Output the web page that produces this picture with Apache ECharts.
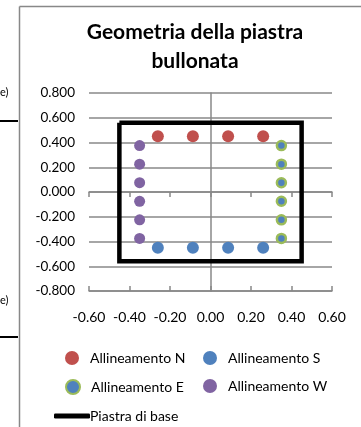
<!DOCTYPE html>
<html>
<head>
<meta charset="utf-8">
<script src="https://cdn.jsdelivr.net/npm/echarts@6/dist/echarts.min.js"></script>
<style>
  html, body { margin: 0; padding: 0; background: #fff; }
  #main { width: 361px; height: 427px; }
</style>
</head>
<body>
<div id="main"></div>
<script>
    // posizioni bulloni (m)
    var boltXs = [-0.26, -0.087, 0.087, 0.26];
    var nordY = [0.45, 0.45, 0.45, 0.45];
    var sudY = [-0.45, -0.45, -0.45, -0.45];
    var boltYs = [0.375, 0.225, 0.075, -0.075, -0.225, -0.375];
    var estX = [0.35, 0.35, 0.35, 0.35, 0.35, 0.35];
    var ovestX = [-0.35, -0.35, -0.35, -0.35, -0.35, -0.35];
    // contorno piastra
    var piastraX = [-0.45, 0.45, 0.45, -0.45, -0.45];
    var piastraY = [0.56, 0.56, -0.56, -0.56, 0.56];

    var xTicks = [-0.6, 0.6, 0.2];
    var yTicks = [-0.8, 0.8, 0.2];

    function pairs(xs, ys) {
        var out = [];
        for (var i = 0; i < xs.length; i++) {
            out.push([xs[i], ys[i]]);
        }
        return out;
    }

    var font = 'Lato, "Open Sans", sans-serif';
    var grigio = '#888888';

    var myChart = echarts.init(document.getElementById('main'));

    var baseX = {
        type: 'value',
        min: xTicks[0],
        max: xTicks[1],
        interval: xTicks[2],
        position: 'bottom',
        splitLine: { show: false },
        axisLabel: { show: false },
        axisTick: { show: false },
        axisLine: { show: false }
    };

    var legendText = { fontFamily: font, fontSize: 14, color: '#000' };

    var option = {
        animation: false,
        textStyle: { fontFamily: font },
        title: {
            text: 'Geometria della piastra\nbullonata',
            left: 190,
            textAlign: 'center',
            top: 13,
            textStyle: {
                fontFamily: font,
                fontSize: 21,
                fontWeight: 'bold',
                color: '#000',
                lineHeight: 29
            }
        },
        graphic: [
            // bordo area grafico
            { type: 'line', shape: { x1: 19.5, y1: 6.5, x2: 361, y2: 6.5 }, style: { stroke: grigio, lineWidth: 1.5 } },
            { type: 'line', shape: { x1: 19.5, y1: 6.5, x2: 19.5, y2: 427 }, style: { stroke: grigio, lineWidth: 1.5 } },
            // resti del grafico dietro
            { type: 'text', left: 0, top: 87, style: { text: 'e)', font: '11px ' + font, fill: '#000' } },
            { type: 'text', left: 0, top: 295, style: { text: 'e)', font: '11px ' + font, fill: '#000' } },
            { type: 'line', shape: { x1: 0, y1: 121, x2: 18, y2: 121 }, style: { stroke: '#000', lineWidth: 2 } },
            { type: 'line', shape: { x1: 0, y1: 337, x2: 18, y2: 337 }, style: { stroke: '#000', lineWidth: 2 } }
        ],
        grid: {
            left: 89,
            right: 29,
            top: 93,
            bottom: 136
        },
        legend: [
            { data: ['Allineamento N'], left: 60, top: 346 },
            { data: ['Allineamento S'], left: 198, top: 346 },
            { data: ['Allineamento E'], left: 60, top: 374 },
            { data: ['Allineamento W'], left: 198, top: 374 },
            {
                data: ['Piastra di base'], left: 49, top: 404,
                itemWidth: 36, itemHeight: 5, icon: 'roundRect',
                textStyle: { padding: [0, 0, 0, -5] }
            }
        ].map(function (l) {
            return Object.assign({
                orient: 'horizontal',
                itemWidth: 14,
                itemHeight: 14,
                icon: 'circle',
                padding: 5
            }, l, {
                textStyle: Object.assign({ padding: [0, 0, 0, 6] }, legendText, l.textStyle || {})
            });
        }),
        xAxis: [
            Object.assign({}, baseX, {
                axisLabel: {
                    show: true,
                    margin: 19,
                    fontFamily: font,
                    fontSize: 14,
                    color: '#000',
                    formatter: function (v) { return v.toFixed(2); }
                }
            }),
            Object.assign({}, baseX, {
                axisLine: { show: true, onZero: true, lineStyle: { color: grigio, width: 1.5 } },
                axisTick: { show: true, inside: false, length: 5, lineStyle: { color: grigio, width: 1.5 } }
            }),
            Object.assign({}, baseX, {
                axisLine: { show: true, onZero: true, lineStyle: { color: grigio, width: 1.5 } },
                axisTick: { show: true, inside: true, length: 5, lineStyle: { color: grigio, width: 1.5 } }
            })
        ],
        yAxis: [
            {
                type: 'value',
                min: yTicks[0],
                max: yTicks[1],
                interval: yTicks[2],
                position: 'left',
                axisLine: { show: false },
                axisTick: { show: false },
                splitLine: { show: true, lineStyle: { color: grigio, width: 1.5 } },
                axisLabel: {
                    margin: 14,
                    fontFamily: font,
                    fontSize: 13.5,
                    color: '#000',
                    formatter: function (v) { return v.toFixed(3); }
                }
            },
            {
                type: 'value',
                min: yTicks[0],
                max: yTicks[1],
                interval: yTicks[2],
                position: 'left',
                axisLine: { show: true, onZero: true, lineStyle: { color: grigio, width: 1.5 } },
                axisTick: { show: false },
                axisLabel: { show: false },
                splitLine: { show: false }
            }
        ],
        series: [
            {
                name: 'Piastra di base',
                type: 'line',
                data: pairs(piastraX, piastraY),
                symbol: 'none',
                itemStyle: { color: '#000' },
                lineStyle: { color: '#000', width: 4.5, join: 'miter' },
                z: 2
            },
            {
                name: 'Allineamento N',
                type: 'scatter',
                data: pairs(boltXs, nordY),
                symbolSize: 12,
                itemStyle: { color: '#c0504d', opacity: 1 },
                z: 3
            },
            {
                name: 'Allineamento S',
                type: 'scatter',
                data: pairs(boltXs, sudY),
                symbolSize: 12,
                itemStyle: { color: '#4f81bd', opacity: 1 },
                z: 3
            },
            {
                name: 'Allineamento E',
                type: 'scatter',
                data: pairs(estX, boltYs),
                symbolSize: 9,
                itemStyle: { color: '#4f81bd', borderColor: '#9bbb59', borderWidth: 2.5, opacity: 1 },
                z: 3
            },
            {
                name: 'Allineamento W',
                type: 'scatter',
                data: pairs(ovestX, boltYs),
                symbolSize: 11,
                itemStyle: { color: '#8064a2', opacity: 1 },
                z: 3
            }
        ]
    };
    myChart.setOption(option);
</script>
</body>
</html>
